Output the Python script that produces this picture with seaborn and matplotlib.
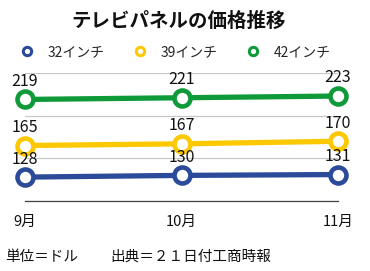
import matplotlib
matplotlib.use("Agg")
import matplotlib.pyplot as plt
from matplotlib.lines import Line2D
import seaborn as sns
import pandas as pd

months = ["9月", "10月", "11月"]
series_names = ["32インチ", "39インチ", "42インチ"]
v32 = [128, 130, 131]
v39 = [165, 167, 170]
v42 = [219, 221, 223]
colors = ["#2b4a9a", "#fcc800", "#0f9a3a"]

sns.set_theme(style="white")
plt.rcParams['font.family'] = ['Noto Sans CJK JP', 'DejaVu Sans']

rows = []
for name, vals in zip(series_names, [v32, v39, v42]):
    for i, (m, v) in enumerate(zip(months, vals)):
        rows.append({"month": m, "x": i, "series": name, "value": v})
df = pd.DataFrame(rows)

fig = plt.figure(figsize=(3.70, 2.71), dpi=100)
ax = fig.add_axes([25/370, 1-201/271, (338-25)/370, (201-73)/271])

sns.lineplot(data=df, x="x", y="value", hue="series", palette=colors,
             hue_order=series_names, ax=ax, legend=False, linewidth=3.8,
             marker="o", markersize=11.5, markerfacecolor="white",
             markeredgewidth=3.3, clip_on=False, zorder=3)
for line, c in zip(ax.lines, colors):
    line.set_markeredgecolor(c)

for name, vals in zip(series_names, [v32, v39, v42]):
    for i, v in enumerate(vals):
        ax.annotate(str(v), (i, v), xytext=(0, 13), textcoords="offset points",
                    ha="center", va="center", fontsize=11.5, color="#111111",
                    zorder=5)

ax.set_xlim(0, 2)
ax.set_ylim(100, 250)
ax.set_yticks([100, 150, 200, 250])
ax.yaxis.grid(True, color="#c8c8c8", linewidth=0.9)
ax.set_axisbelow(True)
ax.set_yticklabels([])
ax.tick_params(axis="y", length=0)
ax.set_xticks([0, 1, 2])
ax.set_xticklabels(months, fontsize=10.5, color="#111111")
ax.tick_params(axis="x", length=0, pad=10)
ax.set_xlabel("")
ax.set_ylabel("")
for s in ["top", "right", "left"]:
    ax.spines[s].set_visible(False)
ax.spines["bottom"].set_color("#444444")
ax.spines["bottom"].set_linewidth(0.9)

fig.text(179/370, 1-21/271, "テレビパネルの価格推移", ha="center", va="center",
         fontsize=14, fontweight="bold", color="#111111")

handles = [Line2D([], [], linestyle="none", marker="o", markersize=6,
                  markerfacecolor="white", markeredgecolor=c, markeredgewidth=2.2)
           for c in colors]
fig.legend(handles, series_names, loc="center left", ncol=3,
           bbox_to_anchor=(0.02, 1-52/271), frameon=False, fontsize=10,
           handletextpad=1.0, columnspacing=2.05, handlelength=1.0)

fig.text(5/370, 1-257/271, "単位＝ドル", ha="left", va="center", fontsize=10.5,
         color="#111111")
fig.text(110/370, 1-257/271, "出典＝２１日付工商時報", ha="left", va="center",
         fontsize=10.5, color="#111111")

fig.savefig("out.png", dpi=100)
